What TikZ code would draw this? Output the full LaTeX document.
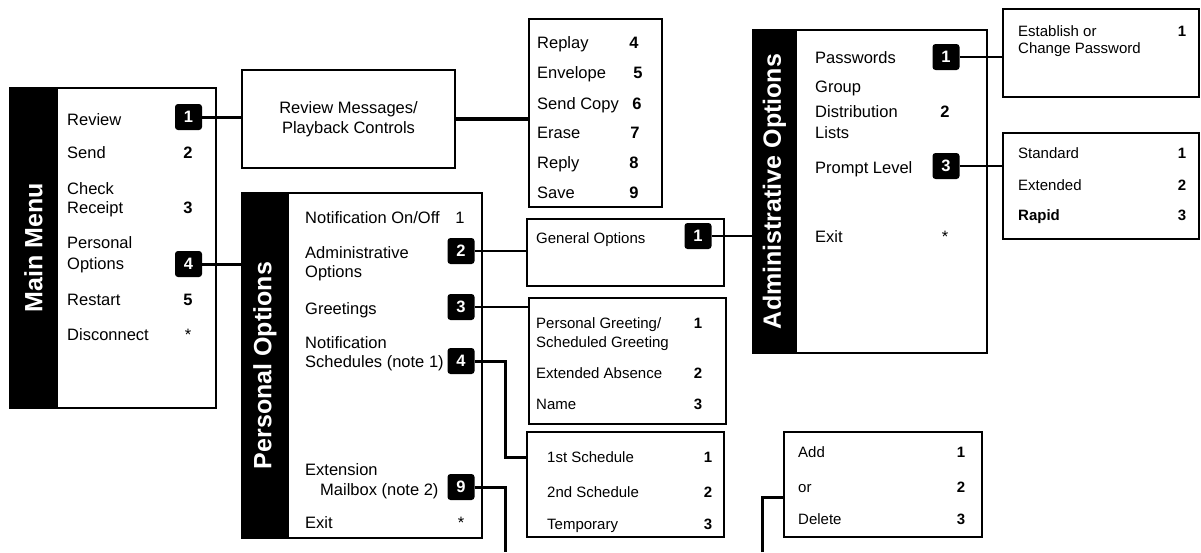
\documentclass[tikz,border=0pt]{standalone}
\usepackage{fontspec}
\setmainfont{Liberation Sans}
\usetikzlibrary{calc}
\newcommand\mtxt{\fontsize{16.5}{20.5}\selectfont}
\newcommand\stxt{\fontsize{15}{18}\selectfont}

\begin{document}
\begin{tikzpicture}[x=1pt,y=-1pt,panel/.style={draw=black,line width=1.2pt,inner sep=0pt,fill=white},bar/.style={draw=black,fill=black,line width=1.2pt,inner sep=0pt,text=white,font=\fontsize{25}{25}\selectfont\bfseries},key/.style={fill=black,rounded corners=3pt,minimum width=27pt,minimum height=26pt,inner sep=0pt,text=white,font=\mtxt\bfseries},item/.style={anchor=base west,inner sep=0pt,font=\mtxt},num/.style={anchor=base,inner sep=0pt,font=\mtxt\bfseries},plain/.style={anchor=base,inner sep=0pt,font=\mtxt},sitem/.style={anchor=base west,inner sep=0pt,font=\stxt},snum/.style={anchor=base,inner sep=0pt,font=\stxt\bfseries},wire/.style={line width=3pt},thinwire/.style={line width=2.2pt}]
\useasboundingbox (0,0) rectangle (1201,552);

\node[bar,minimum width=47pt,minimum height=320pt] (mmbar) at (33.5,248) {\rotatebox{90}{Main Menu}};
\node[panel,minimum width=159pt,minimum height=320pt] (mmbody) at (136.5,248) {};
\foreach \t/\y [count=\i] in {Review/125.5,Send/158.5,Check/194.5,Receipt/213.5,Personal/248.5,Options/269.5,Restart/305.5,Disconnect/340.5}
  \node[item] (mmt\i) at (67,\y) {\t};
\node[key] (mmk1) at (188.5,117) {1};
\node[num] (mmn2) at (188,158.5) {2};
\node[num] (mmn3) at (188,213.5) {3};
\node[key] (mmk4) at (188.5,264) {4};
\node[num] (mmn5) at (188,305.5) {5};
\node[plain] (mmn0) at (188,340.5) {*};

\node[panel,minimum width=213pt,minimum height=98pt,align=center,font=\mtxt] (review) at (348.5,119) {Review Messages/\\Playback Controls};

\node[panel,minimum width=133pt,minimum height=188pt] (playback) at (595.5,113) {};
\foreach \t/\n/\y/\x [count=\i] in {Replay/4/48.5/634,Envelope/5/78.5/638,Send Copy/6/109.5/637,Erase/7/138.5/635,Reply/8/168.5/634,Save/9/198.5/634} {
  \node[item] (pbt\i) at (537,\y) {\t};
  \node[num] (pbn\i) at (\x,\y) {\n};
}

\node[bar,minimum width=46pt,minimum height=345pt] (pobar) at (265,365.5) {\rotatebox{90}{Personal Options}};
\node[panel,minimum width=194pt,minimum height=345pt] (pobody) at (385,365.5) {};
\node[item] (pot1) at (305,223.5) {Notification On/Off};
\node[plain] (pon1) at (460,223.5) {1};
\foreach \t/\x/\y [count=\i from 2] in {Administrative/305/258.5,Options/305/277.5,Greetings/305/314.5,Notification/305/348.5,Schedules (note 1)/305/367.5,Extension/305/475.5,Mailbox (note 2)/320/495.5,Exit/305/528.5}
  \node[item] (pot\i) at (\x,\y) {\t};
\node[key] (pok2) at (461,251) {2};
\node[key] (pok3) at (461,307) {3};
\node[key] (pok4) at (461,361) {4};
\node[key] (pok9) at (461,487) {9};
\node[plain] (pon0) at (461,528.5) {*};

\node[panel,minimum width=197pt,minimum height=67pt] (general) at (625.5,252.5) {};
\node[sitem] (gent) at (536,243) {General Options};
\node[key] (genk1) at (698,236) {1};

\node[panel,minimum width=197pt,minimum height=126pt] (greet) at (627.5,361) {};
\node[sitem] (grt1) at (536,328) {Personal Greeting/};
\node[sitem] (grt2) at (536,347) {Scheduled Greeting};
\node[sitem] (grt3) at (536,378) {Extended Absence};
\node[sitem] (grt4) at (536,409) {Name};
\node[snum] (grn1) at (698,328) {1};
\node[snum] (grn2) at (698,378) {2};
\node[snum] (grn3) at (698,409) {3};

\node[panel,minimum width=197pt,minimum height=105pt] (sched) at (625.5,484.5) {};
\foreach \t/\y [count=\i] in {1st Schedule/462,2nd Schedule/497,Temporary/529} {
  \node[sitem] (sct\i) at (547,\y) {\t};
  \node[snum] (scn\i) at (708,\y) {\i};
}

\node[bar,minimum width=43pt,minimum height=323pt] (adbar) at (774.5,191.5) {\rotatebox{90}{Administrative Options}};
\node[panel,minimum width=191pt,minimum height=323pt] (adbody) at (891.5,191.5) {};
\foreach \t/\y [count=\i] in {Passwords/63.5,Group/92.5,Distribution/117.5,Lists/138.5,Prompt Level/173.5,Exit/242.5}
  \node[item] (adt\i) at (815,\y) {\t};
\node[key] (adk1) at (946,57) {1};
\node[num] (adn2) at (945,117.5) {2};
\node[key] (adk3) at (946,166) {3};
\node[plain] (adn0) at (945,242.5) {*};

\node[panel,minimum width=196pt,minimum height=88pt] (passwd) at (1101,53) {};
\node[sitem] (pwt1) at (1018,36) {Establish or};
\node[sitem] (pwt2) at (1018,53) {Change Password};
\node[snum] (pwn1) at (1182,36) {1};

\node[panel,minimum width=196pt,minimum height=106pt] (prompt) at (1101,186) {};
\node[sitem] (prt1) at (1018,158) {Standard};
\node[sitem] (prt2) at (1018,190) {Extended};
\node[sitem,font=\stxt\bfseries] (prt3) at (1018,220) {Rapid};
\foreach \y [count=\i] in {158,190,220}
  \node[snum] (prn\i) at (1182,\y) {\i};

\node[panel,minimum width=198pt,minimum height=105pt] (adddel) at (883,484.5) {};
\foreach \t/\y [count=\i] in {Add/457,or/492,Delete/524} {
  \node[sitem] (mbt\i) at (798,\y) {\t};
  \node[snum] (mbn\i) at (961,\y) {\i};
}

\draw[wire] (mmk1.east) -- (mmk1.east -| review.west);
\draw[wire,line width=3.8pt] (review.east) -- (review.east -| playback.west);
\draw[wire] (mmk4.east) -- (mmk4.east -| pobar.west);
\draw[thinwire] (pok2.east) -- (pok2.east -| general.west);
\draw[thinwire] (pok3.east) -- (pok3.east -| greet.west);
\coordinate (bend4) at (505,457);
\draw[wire] (pok4.east) -| (bend4) -- (bend4 -| sched.west);
\coordinate (drop9) at (505,552);
\draw[wire] (pok9.east) -| (drop9);
\coordinate (rise) at (762,552);
\draw[wire] (rise) |- ($(adddel.west)+(0,13)$);
\draw[thinwire] (genk1.east) -- (genk1.east -| adbar.west);
\draw[thinwire] (adk1.east) -- (adk1.east -| passwd.west);
\draw[thinwire] (adk3.east) -- (adk3.east -| prompt.west);
\end{tikzpicture}
\end{document}
